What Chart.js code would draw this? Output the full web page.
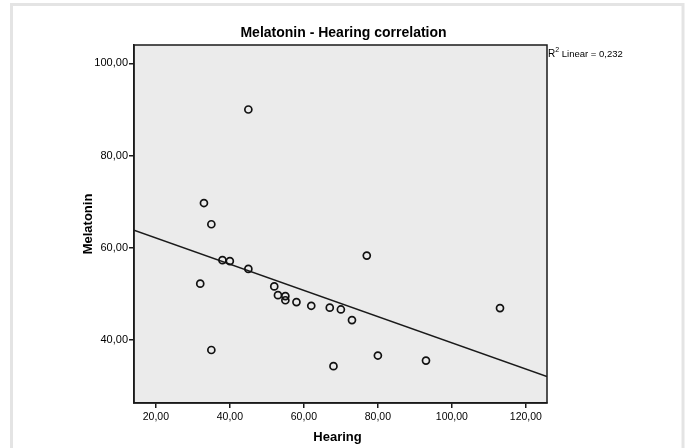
<!DOCTYPE html>
<html>
<head>
<meta charset="utf-8">
<script src="https://cdn.jsdelivr.net/npm/chart.js@4/dist/chart.umd.min.js"></script>
<style>
  html, body { margin: 0; padding: 0; background: #fff; }
  canvas { display: block; }
</style>
</head>
<body>
<canvas id="chart" width="688" height="448"></canvas>
<script>
// ── DATA ─────────────────────────────────────
const hearing   = [45, 33, 35, 38, 40, 45, 32, 52, 53, 55, 55, 58, 62, 67, 70, 73, 35, 68, 77, 113, 80, 93];
const melatonin = [90, 69.7, 65.1, 57.3, 57.1, 55.4, 52.2, 51.6, 49.7, 49.5, 48.6, 48.2, 47.4, 47.0, 46.6, 44.3, 37.8, 34.3, 58.3, 46.9, 36.6, 35.5];
// fit line end points
const fitX = [14.1, 125.7];
const fitY = [63.8, 32.05];
const xTicks = [20, 40, 60, 80, 100, 120];
const yTicks = [40, 60, 80, 100];
const titleText = 'Melatonin - Hearing correlation';
const xTitle = 'Hearing';
const yTitle = 'Melatonin';
const r2Value = '0,232';

const FONT = '"Liberation Sans", Arial, sans-serif';
const fmt = v => v.toFixed(2).replace('.', ',');

// ── DECORATION ───────────────────────────────
const decor = {
  id: 'decor',
  beforeDraw(chart) {
    const { ctx, chartArea: a } = chart;
    ctx.save();
    // page frame
    ctx.strokeStyle = '#e4e4e4';
    ctx.lineWidth = 3;
    ctx.strokeRect(11.5, 4.5, 671.5, 500);
    // plot background
    ctx.fillStyle = '#ebebeb';
    ctx.fillRect(a.left, a.top, a.right - a.left, a.bottom - a.top);
    ctx.restore();
  },
  afterDraw(chart) {
    const { ctx, chartArea: a } = chart;
    ctx.save();
    ctx.strokeStyle = '#1a1a1a';
    ctx.lineWidth = 1.5;
    ctx.strokeRect(a.left, a.top, a.right - a.left, a.bottom - a.top);

    ctx.fillStyle = '#000';
    ctx.textAlign = 'center';
    ctx.textBaseline = 'middle';
    ctx.font = 'bold 14px ' + FONT;
    ctx.fillText(titleText, (a.left + a.right) / 2 + 3, 33);

    ctx.font = 'bold 13px ' + FONT;
    ctx.fillText(xTitle, (a.left + a.right) / 2 - 3, 437);

    ctx.save();
    ctx.translate(88, (a.top + a.bottom) / 2);
    ctx.rotate(-Math.PI / 2);
    ctx.fillText(yTitle, 0, 0);
    ctx.restore();

    // R² label
    ctx.textAlign = 'left';
    ctx.font = '10px ' + FONT;
    ctx.fillText('R', a.right + 1, 54);
    const rw = ctx.measureText('R').width;
    ctx.font = '7px ' + FONT;
    ctx.fillText('2', a.right + 1 + rw, 50);
    const sw = ctx.measureText('2').width;
    ctx.font = '9.5px ' + FONT;
    ctx.fillText(' Linear = ' + r2Value, a.right + 1 + rw + sw, 54);
    ctx.restore();
  }
};

new Chart(document.getElementById('chart').getContext('2d'), {
  type: 'scatter',
  data: {
    datasets: [
      {
        label: 'Melatonin',
        data: hearing.map((x, i) => ({ x, y: melatonin[i] })),
        pointRadius: 3.5,
        pointHoverRadius: 3.5,
        pointBorderWidth: 1.7,
        pointBorderColor: '#111',
        pointBackgroundColor: 'rgba(0,0,0,0)',
        showLine: false,
        order: 1
      },
      {
        label: 'Linear fit',
        data: fitX.map((x, i) => ({ x, y: fitY[i] })),
        showLine: true,
        borderColor: '#1a1a1a',
        borderWidth: 1.5,
        pointRadius: 0,
        fill: false,
        order: 2
      }
    ]
  },
  options: {
    responsive: false,
    animation: false,
    events: [],
    layout: { padding: { left: 94, top: 45, right: 141, bottom: 17 } },
    plugins: { legend: { display: false }, title: { display: false }, tooltip: { enabled: false } },
    scales: {
      x: {
        type: 'linear',
        min: 14.1, max: 125.7,
        afterBuildTicks: s => { s.ticks = xTicks.map(v => ({ value: v })); },
        afterFit: s => { s.height = 28; },
        ticks: { includeBounds: false, callback: v => fmt(v), color: '#000', font: { family: FONT, size: 10.5 }, padding: 3, maxRotation: 0 },
        grid: { drawOnChartArea: false, drawTicks: true, tickLength: 5, color: '#1a1a1a', lineWidth: 1.5 },
        border: { display: true, color: '#1a1a1a', width: 1.5 }
      },
      y: {
        type: 'linear',
        min: 26.3, max: 104,
        afterBuildTicks: s => { s.ticks = yTicks.map(v => ({ value: v })); },
        afterFit: s => { s.width = 40; },
        ticks: { includeBounds: false, callback: v => fmt(v), color: '#000', font: { family: FONT, size: 11 }, padding: 1 },
        grid: { drawOnChartArea: false, drawTicks: true, tickLength: 5, color: '#1a1a1a', lineWidth: 1.5 },
        border: { display: true, color: '#1a1a1a', width: 1.5 }
      }
    }
  },
  plugins: [decor]
});
</script>
</body>
</html>
